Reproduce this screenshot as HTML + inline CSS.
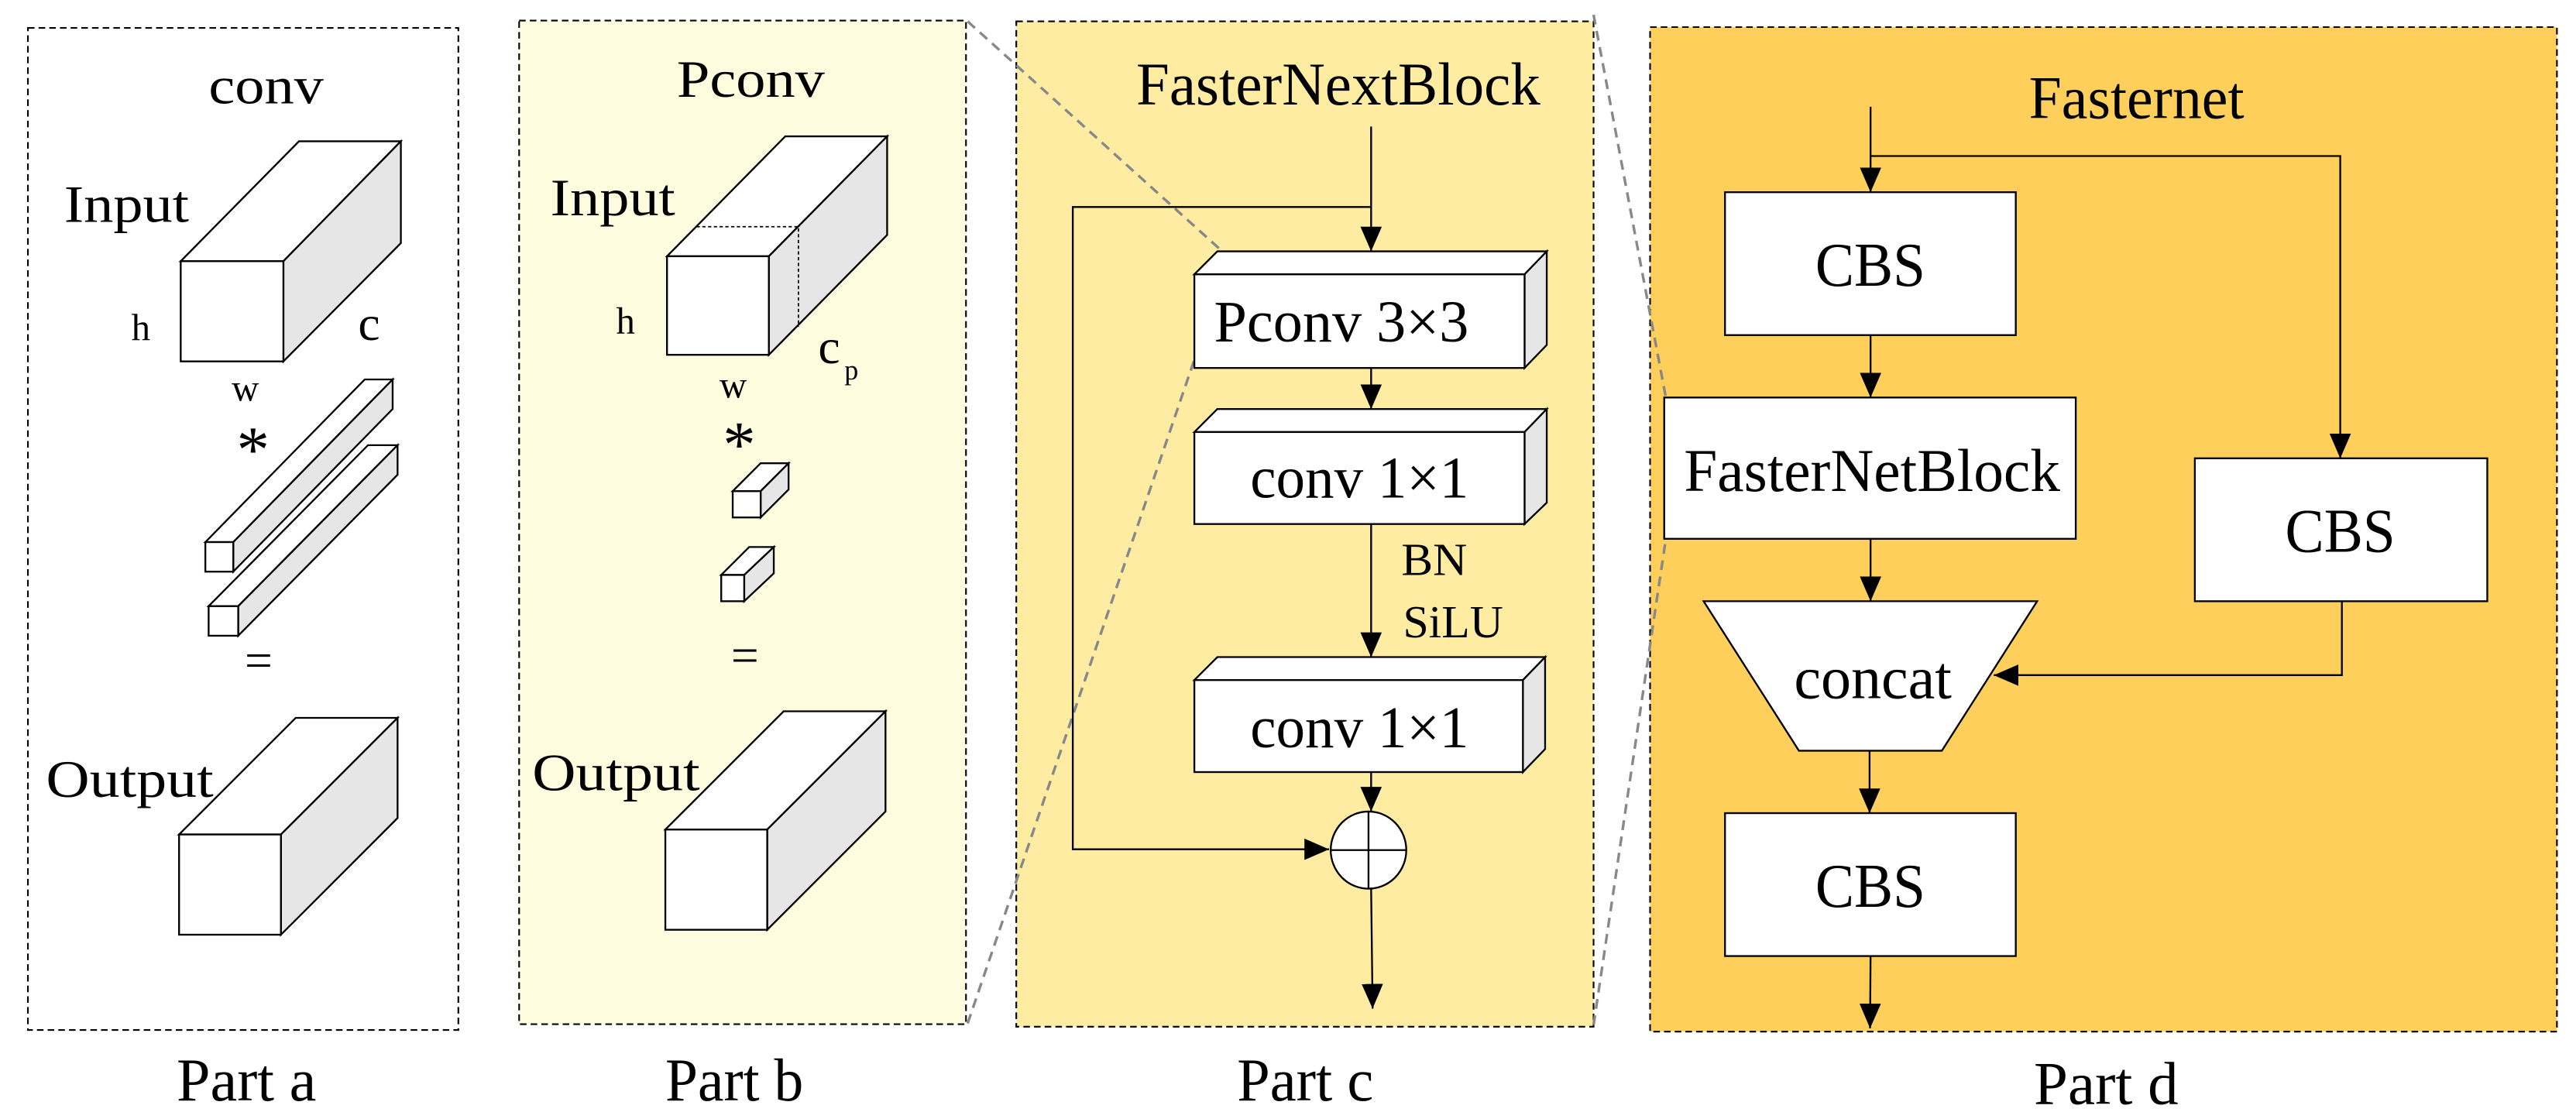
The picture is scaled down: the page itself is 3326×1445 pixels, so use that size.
<!DOCTYPE html>
<html><head><meta charset="utf-8"><style>
html,body{margin:0;padding:0;background:#fff;}
svg{display:block;}
svg text{font-family:"Liberation Serif",serif !important;fill:#000;}
</style></head><body>
<svg width="3326" height="1445" viewBox="0 0 1568 681.2" preserveAspectRatio="none" xmlns="http://www.w3.org/2000/svg" font-family="Liberation Serif, serif">
<defs>
<marker id="ah" markerUnits="userSpaceOnUse" markerWidth="16" markerHeight="16" viewBox="0 0 16 16" refX="15" refY="8" orient="auto">
<path d="M0,1.5 L15,8 L0,14.5 Z" fill="#000"/>
</marker>
</defs>
<g fill="none" stroke="#000" stroke-width="1" stroke-dasharray="4,2.5">
<rect x="17" y="17" width="262" height="610" fill="#fff"/>
<rect x="316" y="12.5" width="272" height="611" fill="#fefcdf"/>
<rect x="618.6" y="13" width="351.4" height="612" fill="#feeca3"/>
<rect x="1004.4" y="16.5" width="552" height="611.5" fill="#fecf5a"/>
</g>

<!-- Part a -->
<g stroke="#000" stroke-width="1.1" stroke-linejoin="miter">
<polygon points="110,159 182,86 244,86 172.5,159" fill="#fff"/>
<polygon points="172.5,159 244,86 244,148 172.5,220" fill="#e6e6e6"/>
<rect x="110" y="159" width="62.5" height="61" fill="#fff"/>
<polygon points="125,330 222,231 239,231 142,330" fill="#fff"/>
<polygon points="142,330 239,231 239,249 142,348" fill="#e6e6e6"/>
<rect x="125" y="330" width="17" height="18" fill="#fff"/>
<polygon points="127,369 224,271 242,271 145,369" fill="#fff"/>
<polygon points="145,369 242,271 242,289 145,387" fill="#e6e6e6"/>
<rect x="127" y="369" width="18" height="18" fill="#fff"/>
<polygon points="109,508 180,437 242,437 171,508" fill="#fff"/>
<polygon points="171,508 242,437 242,498 171,569" fill="#e6e6e6"/>
<rect x="109" y="508" width="62" height="61" fill="#fff"/>
</g>
<text x="127" y="63" font-size="32" textLength="70" lengthAdjust="spacingAndGlyphs">conv</text>
<text x="39" y="135" font-size="32" textLength="76" lengthAdjust="spacingAndGlyphs">Input</text>
<text x="80" y="207" font-size="23">h</text>
<text x="218" y="207" font-size="30">c</text>
<text x="141" y="244" font-size="23">w</text>
<text x="144" y="287" font-size="40">*</text>
<text x="149" y="412" font-size="30">=</text>
<text x="28" y="485" font-size="32" textLength="102" lengthAdjust="spacingAndGlyphs">Output</text>

<!-- Part b -->
<g stroke="#000" stroke-width="1.1">
<polygon points="406,156 478,83 540,83 468,156" fill="#fff"/>
<polygon points="468,156 540,83 540,143 468,216" fill="#e6e6e6"/>
<rect x="406" y="156" width="62" height="60" fill="#fff"/>
<polygon points="446,299 463,282 480,282 463,299" fill="#fff"/>
<polygon points="463,299 480,282 480,298 463,315" fill="#e6e6e6"/>
<rect x="446" y="299" width="17" height="16" fill="#fff"/>
<polygon points="439,350 456,333 471,333 453,350" fill="#fff"/>
<polygon points="453,350 471,333 471,349 453,366" fill="#e6e6e6"/>
<rect x="439" y="350" width="14" height="16" fill="#fff"/>
<polygon points="405,505 477,433 539,433 467,505" fill="#fff"/>
<polygon points="467,505 539,433 539,494 467,566" fill="#e6e6e6"/>
<rect x="405" y="505" width="62" height="61" fill="#fff"/>
</g>
<g stroke="#000" stroke-width="0.8" stroke-dasharray="2,1.5" fill="none">
<polyline points="424,138 486,138 486,199"/>
</g>
<text x="412" y="59" font-size="32" textLength="90" lengthAdjust="spacingAndGlyphs">Pconv</text>
<text x="335" y="131" font-size="32" textLength="76" lengthAdjust="spacingAndGlyphs">Input</text>
<text x="375" y="203" font-size="23">h</text>
<text x="498" y="221" font-size="30">c</text>
<text x="514" y="231" font-size="17">p</text>
<text x="438" y="242" font-size="23">w</text>
<text x="440" y="284" font-size="40">*</text>
<text x="445" y="409" font-size="30">=</text>
<text x="324" y="481" font-size="32" textLength="102" lengthAdjust="spacingAndGlyphs">Output</text>

<!-- grey zoom lines -->
<g stroke="#888" stroke-width="1.6" stroke-dasharray="6,4" fill="none">
<line x1="589" y1="13" x2="744" y2="153"/>
<line x1="589" y1="623" x2="727" y2="219"/>
<line x1="970" y1="9" x2="1014" y2="242"/>
<line x1="970" y1="624" x2="1014" y2="328"/>
</g>

<!-- Part c -->
<text x="691.6" y="63.6" font-size="37" textLength="246" lengthAdjust="spacingAndGlyphs">FasterNextBlock</text>
<g stroke="#000" stroke-width="1.1" fill="none">
<line x1="834.6" y1="77" x2="834.6" y2="153" marker-end="url(#ah)"/>
<polyline points="834.6,126 653,126 653,517 809,517" marker-end="url(#ah)"/>
<line x1="834.6" y1="224" x2="834.6" y2="249" marker-end="url(#ah)"/>
<line x1="834.6" y1="319" x2="834.6" y2="400" marker-end="url(#ah)"/>
<line x1="834.6" y1="470" x2="834.6" y2="494" marker-end="url(#ah)"/>
<line x1="834.6" y1="541" x2="835.5" y2="614" marker-end="url(#ah)"/>
</g>
<g stroke="#000" stroke-width="1.1">
<polygon points="727,167 741,153 941.5,153 928,167" fill="#fff"/>
<polygon points="928,167 941.5,153 941.5,210 928,224" fill="#e6e6e6"/>
<rect x="727" y="167" width="201" height="57" fill="#fff"/>
<polygon points="727,263 741,249 941.5,249 928,263" fill="#fff"/>
<polygon points="928,263 941.5,249 941.5,306 928,319" fill="#e6e6e6"/>
<rect x="727" y="263" width="201" height="56" fill="#fff"/>
<polygon points="727,414 741,400 940.5,400 927,414" fill="#fff"/>
<polygon points="927,414 940.5,400 940.5,456 927,470" fill="#e6e6e6"/>
<rect x="727" y="414" width="200" height="56" fill="#fff"/>
<ellipse cx="833" cy="517.5" rx="23" ry="23.5" fill="#fff"/>
<line x1="833" y1="494" x2="833" y2="541"/>
<line x1="810" y1="517.5" x2="856" y2="517.5"/>
</g>
<text x="739" y="208" font-size="36" textLength="155" lengthAdjust="spacingAndGlyphs">Pconv 3×3</text>
<text x="761" y="303" font-size="36" textLength="133" lengthAdjust="spacingAndGlyphs">conv 1×1</text>
<text x="761" y="455" font-size="36" textLength="133" lengthAdjust="spacingAndGlyphs">conv 1×1</text>
<text x="853" y="350" font-size="28" textLength="40" lengthAdjust="spacingAndGlyphs">BN</text>
<text x="854" y="388" font-size="28" textLength="61" lengthAdjust="spacingAndGlyphs">SiLU</text>

<!-- Part d -->
<text x="1235" y="72" font-size="37" textLength="131" lengthAdjust="spacingAndGlyphs">Fasternet</text>
<g stroke="#000" stroke-width="1.1" fill="none">
<line x1="1138.6" y1="65" x2="1138.6" y2="117" marker-end="url(#ah)"/>
<polyline points="1138.6,95 1424.5,95 1424.5,279" marker-end="url(#ah)"/>
<line x1="1138.6" y1="204" x2="1138.6" y2="242" marker-end="url(#ah)"/>
<line x1="1138.6" y1="328" x2="1138.6" y2="366" marker-end="url(#ah)"/>
<polyline points="1425.5,366 1425.5,411 1213.6,411" marker-end="url(#ah)"/>
<line x1="1138" y1="457" x2="1138" y2="495" marker-end="url(#ah)"/>
<line x1="1138.6" y1="582" x2="1138.3" y2="626" marker-end="url(#ah)"/>
</g>
<g stroke="#000" stroke-width="1.1" fill="#fff">
<rect x="1050" y="117" width="177" height="87"/>
<rect x="1013" y="242" width="250.5" height="86"/>
<polygon points="1037,366 1240,366 1182,457 1095,457"/>
<rect x="1336" y="279" width="178" height="87"/>
<rect x="1050" y="495" width="177" height="87"/>
</g>
<text x="1105" y="174" font-size="38" textLength="67" lengthAdjust="spacingAndGlyphs">CBS</text>
<text x="1025" y="299" font-size="37" textLength="229" lengthAdjust="spacingAndGlyphs">FasterNetBlock</text>
<text x="1092" y="425" font-size="37" textLength="96" lengthAdjust="spacingAndGlyphs">concat</text>
<text x="1391" y="336" font-size="38" textLength="67" lengthAdjust="spacingAndGlyphs">CBS</text>
<text x="1105" y="552" font-size="38" textLength="67" lengthAdjust="spacingAndGlyphs">CBS</text>

<!-- part labels -->
<text x="107.5" y="670" font-size="37" textLength="85" lengthAdjust="spacingAndGlyphs">Part a</text>
<text x="405" y="670" font-size="37" textLength="84" lengthAdjust="spacingAndGlyphs">Part b</text>
<text x="753" y="670" font-size="37" textLength="83" lengthAdjust="spacingAndGlyphs">Part c</text>
<text x="1238" y="672" font-size="37" textLength="88" lengthAdjust="spacingAndGlyphs">Part d</text>
</svg>
</body></html>
